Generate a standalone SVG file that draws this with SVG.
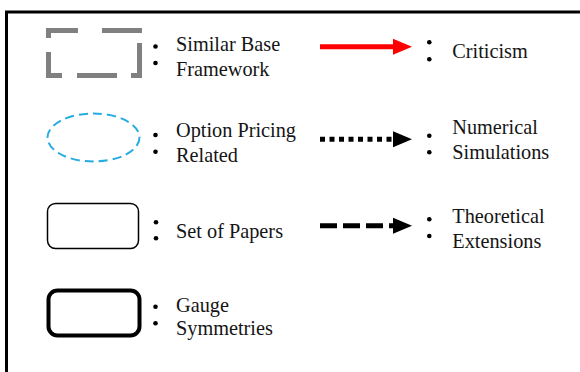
<svg xmlns="http://www.w3.org/2000/svg" width="580" height="372" viewBox="0 0 580 372">
  <defs>
    <style>
      .t { font-family: "Liberation Serif", "Times New Roman", serif; font-size: 20.3px; fill: #151515; }
      .dot { fill: #000; }
      .head { fill: #000; }
    </style>
  </defs>
  <rect width="580" height="372" fill="#fff"/>
  <!-- frame: top and left only -->
  <path d="M6.5,372 V12 H580" fill="none" stroke="#000" stroke-width="3"/>

  <g id="similar-base">
    <rect x="48.5" y="30.5" width="91" height="45" fill="none" stroke="#808080" stroke-width="5" stroke-dasharray="29.5 24 40 10 41 14 40 15 37 14 7.5"/>
    <circle class="dot" cx="155.5" cy="46.5" r="2.3"/>
    <circle class="dot" cx="155.5" cy="63" r="2.3"/>
    <text class="t" x="176" y="51">Similar Base</text>
    <text class="t" x="176" y="76">Framework</text>
  </g>

  <g id="option-pricing">
    <ellipse cx="93.5" cy="137.5" rx="46" ry="24" fill="none" stroke="#27ace2" stroke-width="2" stroke-dasharray="9 5"/>
    <circle class="dot" cx="155.5" cy="135" r="2.3"/>
    <circle class="dot" cx="155.5" cy="151.7" r="2.3"/>
    <text class="t" x="176" y="136.7">Option Pricing</text>
    <text class="t" x="176" y="161.7">Related</text>
  </g>

  <g id="set-of-papers">
    <rect x="47.5" y="203.5" width="91" height="45" rx="8" fill="none" stroke="#000" stroke-width="1.5"/>
    <circle class="dot" cx="156" cy="222.3" r="2.3"/>
    <circle class="dot" cx="156" cy="238.3" r="2.3"/>
    <text class="t" x="176" y="238.3">Set of Papers</text>
  </g>

  <g id="gauge-symmetries">
    <rect x="48.5" y="290.5" width="91" height="45" rx="9" fill="none" stroke="#000" stroke-width="4"/>
    <circle class="dot" cx="155.5" cy="306.7" r="2.3"/>
    <circle class="dot" cx="155.5" cy="323.3" r="2.3"/>
    <text class="t" x="176" y="311.7">Gauge</text>
    <text class="t" x="176" y="335">Symmetries</text>
  </g>

  <g id="connectors">
    <line x1="320" y1="46.7" x2="395" y2="46.7" stroke="#ff0000" stroke-width="5"/>
    <path d="M393,38.7 L412,46.7 L393,54.7 Z" fill="#ff0000"/>
    <line x1="320" y1="139.3" x2="395" y2="139.3" stroke="#000" stroke-width="5" stroke-dasharray="5 4.5"/>
    <path class="head" d="M393,131.3 L412,139.3 L393,147.3 Z"/>
    <line x1="320" y1="225.7" x2="395" y2="225.7" stroke="#000" stroke-width="5" stroke-dasharray="17 6"/>
    <path class="head" d="M393,217.7 L412,225.7 L393,233.7 Z"/>
  </g>

  <g id="criticism">
    <circle class="dot" cx="429.3" cy="42.3" r="2.3"/>
    <circle class="dot" cx="429.3" cy="59.3" r="2.3"/>
    <text class="t" x="452.3" y="57.7">Criticism</text>
  </g>
  <g id="numerical-simulations">
    <circle class="dot" cx="429.3" cy="135.7" r="2.3"/>
    <circle class="dot" cx="429.3" cy="152.3" r="2.3"/>
    <text class="t" x="452.3" y="134">Numerical</text>
    <text class="t" x="452.3" y="159.3">Simulations</text>
  </g>
  <g id="theoretical-extensions">
    <circle class="dot" cx="429.3" cy="219.3" r="2.3"/>
    <circle class="dot" cx="429.3" cy="236" r="2.3"/>
    <text class="t" x="452.3" y="223.3">Theoretical</text>
    <text class="t" x="452.3" y="248.3">Extensions</text>
  </g>
</svg>
